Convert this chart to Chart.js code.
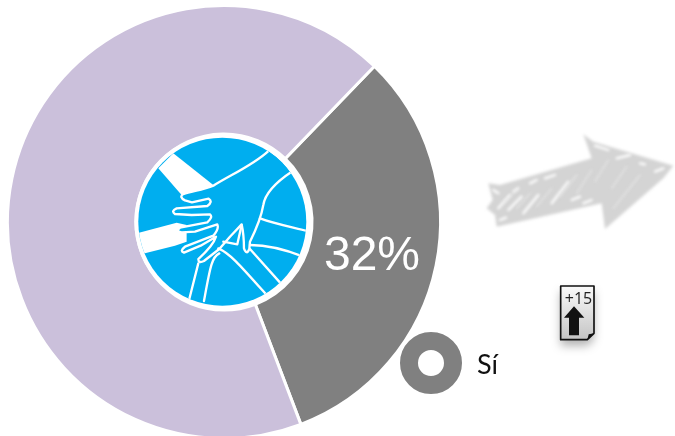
<!DOCTYPE html>
<html>
<head>
<meta charset="utf-8">
<script src="https://cdn.jsdelivr.net/npm/chart.js@4"></script>
<style>
  html, body { margin: 0; padding: 0; background: #fff; overflow: hidden; height: 436px; }
  #wrap { width: 675px; height: 440px; }
</style>
</head>
<body>
<div id="wrap"><canvas id="donut"></canvas></div>
<script>
const categories = ['Sí', 'No'];
const values = [32, 68];
const sliceColors = ['#808080', '#cbc0db'];
const legendCategory = categories[0];
const valueLabel = values[0] + '%';
const badgeLabel = '+15';

// hand picture in the hole, coordinates are a 540px box around the hole
function drawHands(ctx, cx, cy) {
  ctx.save();
  ctx.translate(cx, cy);
  ctx.scale(1 / 3, 1 / 3);
  ctx.translate(-277, -290);

  ctx.fillStyle = '#fff';
  ctx.beginPath();
  ctx.arc(277, 290, 264, 0, Math.PI * 2);
  ctx.fill();
  ctx.fillStyle = '#00aeef';
  ctx.beginPath();
  ctx.arc(277, 290, 252, 0, Math.PI * 2);
  ctx.fill();
  ctx.clip();

  ctx.fillStyle = '#fff';
  ctx.fill(new Path2D('M130,85 L250,180 L215,205 L155,210 L85,130 Z'));
  ctx.fill(new Path2D('M20,325 L140,293 L170,300 L170,350 L135,362 L45,385 L20,390 Z'));

  ctx.strokeStyle = '#fff';
  ctx.lineWidth = 7;
  ctx.lineJoin = 'round';
  ctx.lineCap = 'round';

  const hand = new Path2D('M250,182 C220,195 185,198 160,207 Q146,216 165,226 L186,232 L236,221 Q250,230 232,243 ' +
    'L140,250 Q122,258 135,267 L185,270 L240,268 Q250,276 232,292 L150,308 Q136,318 155,322 L195,320 L262,298 ' +
    'Q268,312 250,332 L165,365 Q148,378 162,383 L212,362 L258,335 Q250,362 205,402 Q205,416 222,408 L268,372 ' +
    'L300,335 L335,298 Q342,330 342,370 Q350,392 358,372 L360,350 C385,300 395,270 400,240 C405,205 440,170 485,140 ' +
    'L560,120 L560,20 L415,78 C370,120 300,150 250,182 Z');
  ctx.fillStyle = '#00aeef';
  ctx.fill(hand);
  ctx.stroke(hand);

  const lines = [
    'M390,280 C430,295 480,305 532,318',
    'M360,360 C420,360 470,375 520,395',
    'M360,372 L455,478',
    'M265,370 C300,385 330,420 410,510',
    'M268,385 C245,395 240,430 222,528',
    'M205,415 L178,522',
    'M280,350 L322,358 L335,300'
  ];
  lines.forEach(function(d) { ctx.stroke(new Path2D(d)); });
  ctx.restore();
}

// sketchy arrow, decoration only
function drawArrow(ctx) {
  ctx.save();
  ctx.translate(480, 125);
  ctx.scale(1 / 3, 1 / 3);
  ctx.filter = 'blur(1.5px)';
  ctx.fillStyle = '#d4d4d4';
  ctx.fill(new Path2D('M25,175 L60,180 L335,100 L310,28 L340,50 L580,122 L550,160 L375,312 L365,235 L50,305 L45,270 L20,250 L38,225 Z'));
  ctx.strokeStyle = '#fff';
  ctx.lineWidth = 7;
  ctx.lineCap = 'round';
  const scratches = [
    'M345,62 L385,75', 'M410,100 L450,90', 'M525,140 L550,130', 'M40,195 L55,205',
    'M60,285 L78,278', 'M55,250 L90,210', 'M85,255 L125,215', 'M130,265 L175,210',
    'M150,175 L170,165', 'M195,160 L225,150', 'M215,235 L265,170', 'M275,225 L300,215',
    'M310,235 L335,225', 'M100,200 L115,190', 'M480,115 L495,118'
  ];
  scratches.forEach(function(d) { ctx.stroke(new Path2D(d)); });
  ctx.strokeStyle = '#e6e6e6';
  ctx.lineWidth = 4;
  const faint = [
    'M70,235 L110,195', 'M110,250 L150,205', 'M170,245 L215,190', 'M240,215 L290,150',
    'M290,205 L335,135', 'M345,170 L385,105', 'M395,190 L440,125', 'M400,250 L480,150'
  ];
  faint.forEach(function(d) { ctx.stroke(new Path2D(d)); });
  ctx.restore();
}

function drawBadge(ctx) {
  ctx.save();
  ctx.translate(390, 275);
  ctx.scale(1 / 3, 1 / 3);
  const paper = new Path2D('M512,33 L612,33 L612,175 L592,194 L512,194 Z');
  const grad = ctx.createLinearGradient(0, 33, 0, 194);
  grad.addColorStop(0, '#fafafa');
  grad.addColorStop(1, '#c4c4c4');
  ctx.save();
  ctx.shadowColor = 'rgba(0,0,0,0.3)';
  ctx.shadowBlur = 10;
  ctx.shadowOffsetY = 6;
  ctx.fillStyle = grad;
  ctx.fill(paper);
  ctx.restore();
  ctx.strokeStyle = '#111';
  ctx.lineWidth = 5;
  ctx.lineJoin = 'round';
  ctx.stroke(paper);
  ctx.fillStyle = '#111';
  ctx.fill(new Path2D('M592,194 L596,178 L612,175 Z'));
  ctx.fill(new Path2D('M552,94 L583,128 L567,128 L567,181 L537,181 L537,128 L522,128 Z'));
  ctx.restore();

  ctx.fillStyle = '#222';
  ctx.font = '16px "Open Sans", Lato, sans-serif';
  ctx.textAlign = 'center';
  ctx.textBaseline = 'alphabetic';
  ctx.fillText(badgeLabel, 578.5, 304);
}

const extras = {
  id: 'extras',
  afterDraw(chart) {
    const ctx = chart.ctx;
    const arc = chart.getDatasetMeta(0).data[0];
    drawHands(ctx, arc.x - 1.7, arc.y - 0.3);

    // value on the grey slice
    ctx.save();
    ctx.fillStyle = '#fff';
    ctx.font = '48px "Liberation Sans", Arial, sans-serif';
    ctx.textAlign = 'center';
    ctx.textBaseline = 'middle';
    ctx.fillText(valueLabel, 372, 257);
    ctx.restore();

    drawArrow(ctx);

    // legend entry
    ctx.save();
    ctx.strokeStyle = sliceColors[0];
    ctx.lineWidth = 18;
    ctx.beginPath();
    ctx.arc(431, 363, 22, 0, Math.PI * 2);
    ctx.stroke();
    ctx.fillStyle = '#111';
    ctx.font = '27px Lato, "Open Sans", sans-serif';
    ctx.textAlign = 'left';
    ctx.textBaseline = 'middle';
    ctx.fillText(legendCategory, 477, 365);
    ctx.restore();

    drawBadge(ctx);
  }
};

new Chart(document.getElementById('donut').getContext('2d'), {
  type: 'doughnut',
  data: {
    labels: categories,
    datasets: [{
      data: values,
      backgroundColor: sliceColors,
      borderColor: '#fff',
      borderWidth: 3
    }]
  },
  options: {
    responsive: true,
    maintainAspectRatio: false,
    animation: false,
    rotation: 44,
    cutout: 88,
    layout: { padding: { left: 6, right: 233, top: 4, bottom: 0 } },
    plugins: { legend: { display: false }, tooltip: { enabled: false } }
  },
  plugins: [extras]
});
</script>
</body>
</html>
